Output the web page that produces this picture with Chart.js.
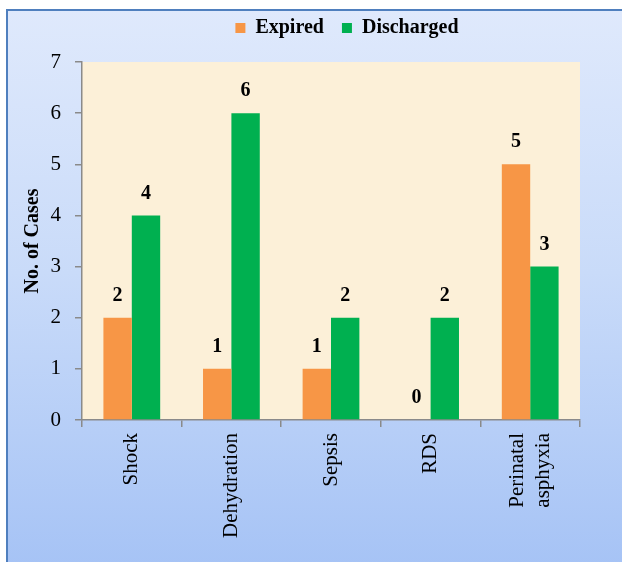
<!DOCTYPE html>
<html>
<head>
<meta charset="utf-8">
<script src="https://cdn.jsdelivr.net/npm/chart.js@4/dist/chart.umd.min.js"></script>
<style>
  html, body { margin: 0; padding: 0; background: #ffffff; }
  #wrap { position: relative; width: 622px; height: 562px; overflow: hidden; }
  #bg { position: absolute; left: 6px; top: 9px; width: 640px; height: 580px;
        border-top: 2px solid #4f7fbe; border-left: 2px solid #4f7fbe;
        background: linear-gradient(to bottom, #dfe9fc 0%, #c9dbf9 45%, #a3c1f5 100%); }
  canvas { position: absolute; left: 0; top: 0; }
</style>
</head>
<body>
<div id="wrap">
  <div id="bg"></div>
  <canvas id="c" width="622" height="562"></canvas>
</div>
<script>
const categories = ["Shock", "Dehydration", "Sepsis", "RDS", ["Perinatal", "asphyxia"]];
const expired = [2, 1, 1, 0, 5];
const discharged = [4, 6, 2, 2, 3];
const yTicks = [0, 1, 2, 3, 4, 5, 6, 7];

const SERIF = "'Liberation Serif', 'Times New Roman', serif";

const plotBg = {
  id: 'plotBg',
  beforeDraw(chart) {
    const {ctx, chartArea: a} = chart;
    ctx.save();
    ctx.fillStyle = '#fcf0d8';
    ctx.fillRect(a.left, a.top, a.right - a.left, a.bottom - a.top);
    ctx.restore();
  }
};

const valueLabels = {
  id: 'valueLabels',
  afterDatasetsDraw(chart) {
    const ctx = chart.ctx;
    ctx.save();
    ctx.font = "bold 20px " + SERIF;
    ctx.fillStyle = '#000';
    ctx.textAlign = 'center';
    ctx.textBaseline = 'middle';
    chart.data.datasets.forEach((ds, i) => {
      const meta = chart.getDatasetMeta(i);
      meta.data.forEach((bar, j) => {
        ctx.fillText(String(ds.data[j]), bar.x, bar.y - 22);
      });
    });
    ctx.restore();
  }
};

const legendFix = {
  id: 'legendFix',
  beforeInit(chart) {
    const lg = chart.legend;
    const fit = lg.fit;
    lg.fit = function () { fit.call(this); this.height = 62; };
  },
  afterLayout(chart) {
    const lg = chart.legend;
    const shift = 347 - (lg.left + lg.right) / 2;
    lg.left += shift; lg.right += shift;
  }
};

new Chart(document.getElementById('c'), {
  type: 'bar',
  data: {
    labels: categories,
    datasets: [
      { label: 'Expired', data: expired, backgroundColor: '#f79646', borderWidth: 0 },
      { label: 'Discharged', data: discharged, backgroundColor: '#00b050', borderWidth: 0 }
    ]
  },
  options: {
    responsive: false,
    animation: false,
    devicePixelRatio: 1,
    layout: { padding: { left: 0, right: 42, top: 0, bottom: 0 } },
    datasets: { bar: { categoryPercentage: 0.57, barPercentage: 1 } },
    plugins: {
      legend: {
        position: 'top',
        labels: {
          boxWidth: 10, boxHeight: 10, padding: 18, color: '#000',
          font: { family: SERIF, size: 20, weight: 'bold' }
        }
      },
      tooltip: { enabled: false }
    },
    scales: {
      x: {
        grid: { display: true, drawOnChartArea: false, drawTicks: true, tickLength: 7, color: '#8a8a8a', lineWidth: 1.5 },
        border: { display: true, color: '#8a8a8a', width: 1.5 },
        ticks: {
          color: '#000', minRotation: 90, maxRotation: 90, padding: 6, autoSkip: false,
          font: { family: SERIF, size: 21, lineHeight: 1.25 }
        },
        afterFit(s) { s.height = 142; },
        afterUpdate(s) {
          if (s._centerPatched) return;
          s._centerPatched = true;
          const orig = s._computeLabelItems;
          s._computeLabelItems = function (ca) {
            const items = orig.call(this, ca);
            items.forEach(it => {
              if (Array.isArray(it.label) && it.label.length > 1) {
                const lh = 21 * 1.25;
                it.options.translation[0] -= lh * (it.label.length - 1) / 2;
              }
            });
            return items;
          };
        }
      },
      y: {
        min: 0, max: 7,
        afterBuildTicks(s) { s.ticks = yTicks.map(v => ({ value: v })); },
        grid: { display: true, drawOnChartArea: false, drawTicks: true, tickLength: 7, color: '#8a8a8a', lineWidth: 1.5 },
        border: { display: true, color: '#8a8a8a', width: 1.5 },
        ticks: { color: '#000', padding: 14, font: { family: SERIF, size: 21 } },
        title: {
          display: true, text: 'No. of Cases', color: '#000',
          font: { family: SERIF, size: 20, weight: 'bold' },
          padding: { top: 21, bottom: 0 }
        },
        afterFit(s) { s.width = 82; }
      }
    }
  },
  plugins: [plotBg, valueLabels, legendFix]
});
</script>
</body>
</html>
